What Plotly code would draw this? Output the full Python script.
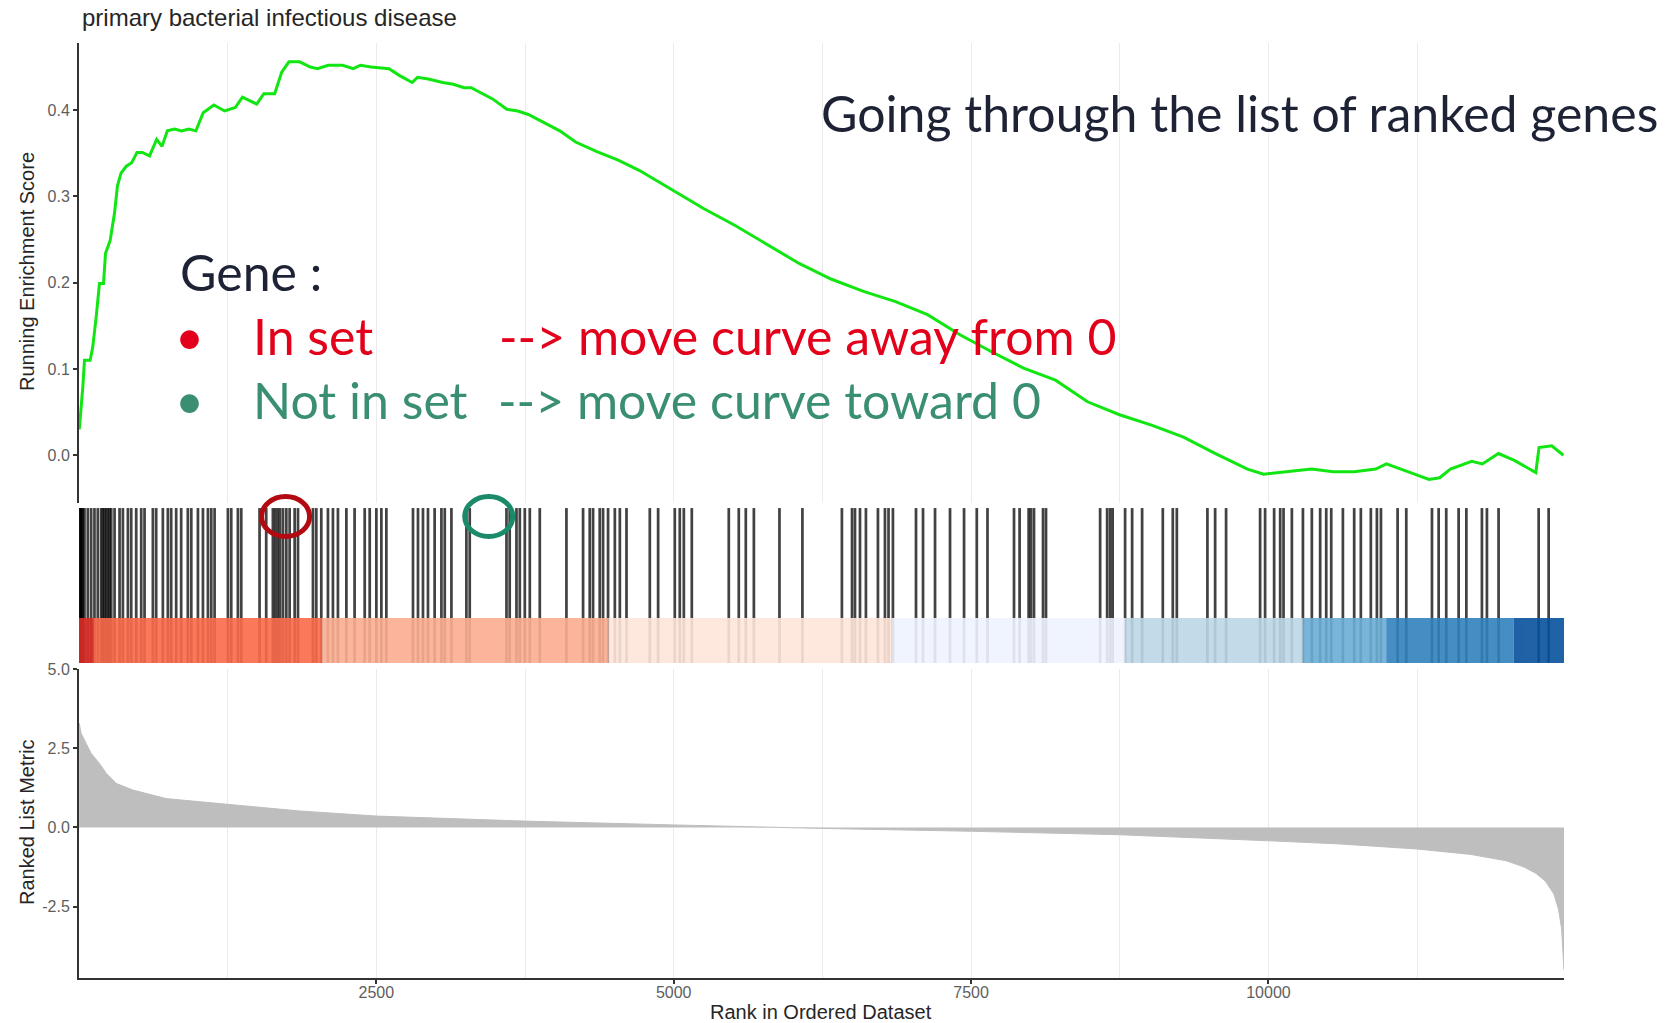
import plotly.graph_objects as go

# ---------------- data ----------------
N_GENES = 12485

# running enrichment score along the ranked list
es_rank = [1, 4, 32, 46, 94, 116, 145, 172, 206, 223, 262, 299, 323, 353, 398, 443, 488, 533,
           593, 653, 698, 743, 803, 863, 923, 983, 1044, 1134, 1224, 1314, 1374, 1494, 1554,
           1645, 1704, 1765, 1855, 1945, 2005, 2095, 2216, 2306, 2366, 2456, 2606, 2696, 2801,
           2846, 2937, 3057, 3147, 3237, 3297, 3477, 3597, 3688, 3778, 3928, 4042, 4175, 4354,
           4533, 4713, 4982, 5251, 5520, 5789, 6058, 6327, 6596, 6865, 7134, 7403, 7672, 7941,
           8210, 8479, 8748, 9017, 9286, 9555, 9824, 9959, 10094, 10363, 10543, 10722, 10902,
           10992, 11171, 11350, 11440, 11530, 11709, 11799, 11934, 12068, 12248, 12275, 12382,
           12480]
es_score = [0.030, 0.033, 0.079, 0.110, 0.110, 0.126, 0.161, 0.199, 0.199, 0.234, 0.249, 0.281,
            0.312, 0.327, 0.335, 0.339, 0.351, 0.351, 0.347, 0.366, 0.358, 0.376, 0.378, 0.376,
            0.378, 0.376, 0.397, 0.406, 0.399, 0.403, 0.415, 0.407, 0.419, 0.419, 0.444, 0.456,
            0.456, 0.450, 0.448, 0.452, 0.452, 0.448, 0.452, 0.450, 0.448, 0.440, 0.432, 0.438,
            0.436, 0.432, 0.430, 0.426, 0.426, 0.413, 0.401, 0.399, 0.395, 0.384, 0.376, 0.363,
            0.352, 0.342, 0.330, 0.308, 0.286, 0.266, 0.244, 0.222, 0.204, 0.190, 0.178, 0.163,
            0.140, 0.120, 0.101, 0.087, 0.062, 0.047, 0.035, 0.021, 0.002, -0.016, -0.022,
            -0.020, -0.016, -0.019, -0.019, -0.016, -0.010, -0.019, -0.028, -0.026, -0.016,
            -0.007, -0.010, 0.002, -0.006, -0.020, 0.009, 0.011, 0.000]

# ranks of the genes that belong to the set
hit_rank = [5, 12, 18, 25, 32, 46, 74, 102, 130, 158, 186, 200, 214, 228, 243, 257, 271, 299,
            341, 369, 411, 439, 481, 523, 551, 621, 649, 705, 747, 775, 817, 859, 915, 944, 1000,
            1042, 1084, 1112, 1140, 1252, 1280, 1336, 1364, 1518, 1574, 1630, 1650, 1670, 1690,
            1715, 1743, 1771, 1813, 1841, 1967, 1995, 2037, 2093, 2135, 2177, 2248, 2317, 2402,
            2444, 2500, 2542, 2584, 2808, 2850, 2892, 2934, 2990, 3047, 3075, 3131, 3257, 3285,
            3594, 3621, 3678, 3706, 3748, 3790, 3874, 4098, 4238, 4294, 4322, 4378, 4406, 4448,
            4505, 4547, 4603, 4799, 4869, 5009, 5051, 5085, 5152, 5463, 5547, 5606, 5674, 5889,
            6082, 6414, 6499, 6524, 6566, 6616, 6717, 6776, 6806, 6843, 7037, 7096, 7197, 7323,
            7441, 7548, 7638, 7861, 7908, 7984, 8004, 8029, 8105, 8130, 8585, 8644, 8669, 8690,
            8795, 8854, 8938, 9112, 9196, 9230, 9487, 9552, 9644, 9930, 9972, 10048, 10099,
            10127, 10197, 10290, 10365, 10435, 10486, 10528, 10626, 10721, 10777, 10861, 10912,
            10946, 11086, 11159, 11375, 11431, 11495, 11599, 11664, 11795, 11837, 11935, 12272,
            12356]

# ranked list metric
metric_rank = [1, 18, 60, 102, 172, 229, 313, 453, 733, 1246, 1855, 2500, 3750, 5000, 5800,
               6250, 7500, 8750, 10000, 10600, 11250, 11700, 12000, 12150, 12250, 12330, 12400,
               12440, 12465, 12480, 12485]
metric_value = [3.30, 2.97, 2.65, 2.34, 2.02, 1.71, 1.39, 1.18, 0.91, 0.73, 0.52, 0.36, 0.20,
                0.08, 0.00, -0.03, -0.12, -0.23, -0.42, -0.52, -0.68, -0.85, -1.05, -1.25,
                -1.45, -1.70, -2.10, -2.60, -3.20, -4.00, -4.50]

# colour strip under the barcode
strip_edges = [0, 122, 2044, 4452, 6830, 8794, 10290, 10990, 12060, 12485]
strip_colors = ["#DE2D26", "#FB6A4A", "#FCAE91", "#FEE5D9", "#EFF3FF",
                "#BDD7E7", "#6BAED6", "#3182BD", "#08519C"]

rank_ticks = [2500, 5000, 7500, 10000]
rank_minor = [1250, 3750, 6250, 8750, 11250]
es_ticks = [0.0, 0.1, 0.2, 0.3, 0.4]
metric_ticks = [-2.5, 0.0, 2.5, 5.0]

# genes singled out on the barcode
gene_in_set = 1737
gene_not_in_set = 3445

# ---------------- layout geometry ----------------
W, H = 1672, 1023
ML, MR, MT, MB = 79, 108, 43, 45
PW, PH = W - ML - MR, H - MT - MB


def px(x):
    return (x - ML) / PW


def py(y):
    return (H - MB - y) / PH


STRIP_BOTTOM, STRIP_TOP, LINE_TOP, PANEL_TOP = -0.409, 0.0, 1.0, 1.164

fig = go.Figure()

fig.add_trace(go.Scatter(
    x=es_rank, y=es_score, mode="lines",
    line=dict(color="#12E612", width=3),
    xaxis="x", yaxis="y", hoverinfo="skip"))

fig.add_trace(go.Bar(
    x=hit_rank, y=[LINE_TOP - STRIP_BOTTOM] * len(hit_rank), base=STRIP_BOTTOM,
    width=23, marker=dict(color="rgba(0,0,0,0.74)", line=dict(width=0)),
    xaxis="x2", yaxis="y2", hoverinfo="skip"))

mids = [(a + b) / 2 for a, b in zip(strip_edges[:-1], strip_edges[1:])]
widths = [b - a for a, b in zip(strip_edges[:-1], strip_edges[1:])]
fig.add_trace(go.Bar(
    x=mids, y=[STRIP_TOP - STRIP_BOTTOM] * len(mids), base=STRIP_BOTTOM, width=widths,
    marker=dict(color=strip_colors, line=dict(width=0)), opacity=0.9,
    xaxis="x2", yaxis="y2", hoverinfo="skip"))

fig.add_trace(go.Scatter(
    x=metric_rank, y=metric_value, mode="lines", fill="tozeroy",
    fillcolor="#BEBEBE", line=dict(color="#BEBEBE", width=1),
    xaxis="x3", yaxis="y3", hoverinfo="skip"))

# circles around two positions of the barcode
half_w = 202
for center, color in [(gene_in_set, "#B20A10"), (gene_not_in_set, "#1B8A6A")]:
    fig.add_shape(type="circle", xref="x2", yref="y2",
                  x0=center - half_w, x1=center + half_w, y0=0.742, y1=1.105,
                  line=dict(color=color, width=5))

grid = "#EBEBEB"
tickfont = dict(family="Liberation Sans", size=16, color="#5E5E5E")
axis_col = "#333333"

fig.update_layout(
    width=W, height=H, margin=dict(l=ML, r=MR, t=MT, b=MB),
    paper_bgcolor="white", plot_bgcolor="rgba(0,0,0,0)",
    showlegend=False, barmode="overlay",
    xaxis=dict(domain=[0, 1], anchor="y", range=[0, N_GENES], tickvals=rank_ticks,
               showticklabels=False, ticks="", showline=False, zeroline=False,
               showgrid=True, gridcolor=grid, gridwidth=1,
               minor=dict(tickvals=rank_minor, showgrid=True, gridcolor=grid, gridwidth=1)),
    xaxis2=dict(domain=[0, 1], anchor="y2", range=[0, N_GENES], visible=False),
    xaxis3=dict(domain=[0, 1], anchor="y3", range=[0, N_GENES], tickvals=rank_ticks,
                ticktext=[str(v) for v in rank_ticks], ticks="outside", ticklen=4,
                tickcolor=axis_col, tickwidth=1.5, tickfont=tickfont, ticklabelstandoff=-5,
                showline=True, linecolor=axis_col, linewidth=2, zeroline=False,
                showgrid=True, gridcolor=grid, gridwidth=1,
                minor=dict(tickvals=rank_minor, showgrid=True, gridcolor=grid, gridwidth=1)),
    yaxis=dict(domain=[py(503), 1], anchor="x", range=[-0.0553, 0.4778],
               tickvals=es_ticks, ticktext=["%.1f" % v for v in es_ticks],
               ticks="outside", ticklen=4, tickcolor=axis_col, tickwidth=1.5,
               tickfont=tickfont, showline=True, linecolor=axis_col, linewidth=2,
               showgrid=False, zeroline=False),
    yaxis2=dict(domain=[py(663), py(490)], anchor="x2", range=[STRIP_BOTTOM, PANEL_TOP],
                visible=False),
    yaxis3=dict(domain=[0, py(669)], anchor="x3", range=[-4.75, 5.0],
                tickvals=metric_ticks, ticktext=["%.1f" % v for v in metric_ticks],
                ticks="outside", ticklen=4, tickcolor=axis_col, tickwidth=1.5,
                tickfont=tickfont, showline=True, linecolor=axis_col, linewidth=2,
                showgrid=False, zeroline=False),
)

label_font = dict(family="Liberation Sans", size=20, color="#262626")
ann = [
    dict(text="primary bacterial infectious disease", x=px(80), y=py(18), xanchor="left",
         yanchor="middle", font=dict(family="Liberation Sans", size=24, color="#262626")),
    dict(text="Running Enrichment Score", x=px(27), y=py(272), textangle=-90,
         xanchor="center", yanchor="middle", font=label_font),
    dict(text="Ranked List Metric", x=px(27), y=py(822), textangle=-90,
         xanchor="center", yanchor="middle", font=label_font),
    dict(text="Rank in Ordered Dataset", x=px(821), y=py(1012),
         xanchor="center", yanchor="middle", font=label_font),
]

navy, red, green = "#1E2235", "#E2001A", "#3A8F73"
slide = "Lato"
for text, x, y, col in [
    ("Going through the list of ranked genes", 819, 113, navy),
    ("Gene :", 178, 272, navy),
    ("\u2022", 173, 336, red),
    ("In set", 251, 336, red),
    ("--> move curve away from 0", 497, 336, red),
    ("\u2022", 173, 400, green),
    ("Not in set", 251, 400, green),
    ("--> move curve toward 0", 496, 400, green),
]:
    ann.append(dict(text=text, x=px(x), y=py(y), xanchor="left", yanchor="middle",
                    font=dict(family=slide, size=50, color=col)))

for a in ann:
    a.update(xref="paper", yref="paper", showarrow=False)
fig.update_layout(annotations=ann)

fig.write_html("out.html")
